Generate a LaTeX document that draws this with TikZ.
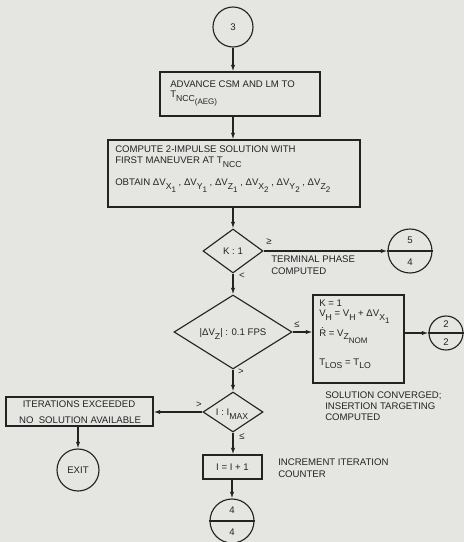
\documentclass[tikz,border=0pt]{standalone}
\usepackage{fontspec}
\setmainfont{Liberation Sans}
\usetikzlibrary{shapes.geometric,arrows.meta}
\definecolor{paper}{RGB}{229,229,226}
\definecolor{ink}{RGB}{35,35,35}
\newcommand\sbs[1]{\raisebox{-0.75ex}{\fontsize{6.5}{6.5}\selectfont #1}}
\newcommand\ssbs[1]{\raisebox{-0.7ex}{\fontsize{6}{6}\selectfont #1}}
\newcommand\Rdot{{\ooalign{R\cr\hidewidth\raisebox{0.8em}{.}\hidewidth\cr}}}
\begin{document}
\begin{tikzpicture}[x=0.75pt,y=-0.75pt,
  every node/.style={font=\fontsize{7.2}{8.4}\selectfont, text=ink},
  line/.style={draw=ink, line width=0.85pt},
  flow/.style={line, -{Latex[length=5pt,width=3.2pt]}},
  boxn/.style={draw=ink, line width=0.85pt, rectangle, inner sep=0pt},
  dia/.style={draw=ink, line width=0.85pt, diamond, inner sep=0pt},
  conn/.style={draw=ink, line width=0.85pt, circle, inner sep=0pt},
  tx/.style={inner sep=0pt, anchor=base west},
  ctx/.style={inner sep=0pt, anchor=base},
  sym/.style={inner sep=0pt}]

\fill[paper] (0,0) rectangle (464,542);
\useasboundingbox (0,0) rectangle (464,542);

% connector 3
\node[conn, minimum size=30pt] (c3) at (233,27) {3};

% box 1
\node[boxn, minimum width=120pt, minimum height=33pt] (b1) at (240,94) {};
\node[tx] (t1a) at (170,87.5) {ADVANCE CSM AND LM TO};
\node[tx] (t1b) at (170,97.5) {T\sbs{NCC\ssbs{(AEG)}}};

% box 2
\node[boxn, minimum width=189pt, minimum height=50.25pt] (b2) at (234,173.5) {};
\node[tx] (t2a) at (115,152.5) {COMPUTE 2-IMPULSE SOLUTION WITH};
\node[tx] (t2b) at (115,163.5) {FIRST MANEUVER AT T\sbs{NCC}};
\node[tx] (t2c) at (115,185.5) {OBTAIN ΔV\sbs{X\ssbs{1}} , ΔV\sbs{Y\ssbs{1}} , ΔV\sbs{Z\ssbs{1}} , ΔV\sbs{X\ssbs{2}} , ΔV\sbs{Y\ssbs{2}} , ΔV\sbs{Z\ssbs{2}}};

% decision K:1
\node[dia, minimum width=45pt, minimum height=33pt] (d1) at (233,251) {};
\node[ctx] (d1t) at (233,254.5) {K : 1};

% connector 5/4
\node[conn, minimum size=33pt] (c54) at (410,251) {};
\node[sym] (c54a) at (410,240) {5};
\node[sym] (c54b) at (410,262.5) {4};
\node[sym] (ge1) at (269,242) {≥};
\node[tx] (tp1) at (271,262.5) {TERMINAL PHASE};
\node[tx] (tp2) at (271,274) {COMPUTED};
\node[sym] (lt1) at (242,276) {<};

% decision |dVz|
\node[dia, minimum width=88.5pt, minimum height=55.5pt] (d2) at (233,332) {};
\node[ctx] (d2t) at (233,335.5) {|ΔV\sbs{Z}| : 0.1 FPS};
\node[sym] (le1) at (297,325) {≤};
\node[sym] (gt1) at (241,372) {>};

% box K=1
\node[boxn, minimum width=68.25pt, minimum height=66pt] (bk) at (358.5,339) {};
\node[tx] (k1) at (319,306.5) {K = 1};
\node[tx] (k2) at (319,316.5) {V\sbs{H} = V\sbs{H} + ΔV\sbs{X\ssbs{1}}};
\node[tx] (k3) at (319,336) {\Rdot{} = V\sbs{Z\ssbs{NOM}}};
\node[tx] (k4) at (319,365) {T\sbs{LOS} = T\sbs{LO}};

% connector 2/2
\node[conn, minimum size=25.5pt] (c22) at (446,333) {};
\node[sym] (c22a) at (446,324) {2};
\node[sym] (c22b) at (446,342) {2};

\node[tx] (sc1) at (325,398.5) {SOLUTION CONVERGED;};
\node[tx] (sc2) at (325,409.5) {INSERTION TARGETING};
\node[tx] (sc3) at (325,420.5) {COMPUTED};

% decision I:IMAX
\node[dia, minimum width=45pt, minimum height=30pt] (d3) at (233,412) {};
\node[ctx] (d3t) at (232,415.5) {I : I\sbs{MAX}};
\node[sym] (gt2) at (199,405) {>};
\node[sym] (le2) at (242,437) {≤};

% iterations exceeded
\node[boxn, minimum width=110.25pt, minimum height=21.75pt] (bi) at (79.5,411.5) {};
\node[ctx] (bi1) at (79,407.5) {ITERATIONS EXCEEDED};
\node[ctx] (bi2) at (80,423.5) {NO\ \ SOLUTION AVAILABLE};

\node[conn, minimum size=31.5pt] (ex) at (78,470) {EXIT};

% increment
\node[boxn, minimum width=44.25pt, minimum height=18pt] (binc) at (232.5,467) {};
\node[ctx] (bincT) at (232.5,470.5) {I = I + 1};
\node[tx] (ic1) at (278,465.5) {INCREMENT ITERATION};
\node[tx] (ic2) at (278,477.5) {COUNTER};

% connector 4/4
\node[conn, minimum size=33pt] (c44) at (232,521) {};
\node[sym] (c44a) at (232,510.5) {4};
\node[sym] (c44b) at (232,532) {4};

% split lines
\draw[line] (c54.west) -- (c54.east);
\draw[line] (c22.west) -- (c22.east);
\draw[line] (c44.west) -- (c44.east);

% flow
\draw[flow] (c3.south) -- (c3.south |- b1.north);
\draw[flow] (b1.south -| c3) -- (b2.north -| c3);
\draw[flow] (b2.south -| d1) -- (d1.north);
\draw[flow] (d1.east) -- (c54.west);
\draw[flow] (d1.south) -- (d2.north);
\draw[flow] (d2.east) -- (d2.east -| bk.west);
\draw[flow] (c22.west -| bk.east) -- (c22.west);
\draw[flow] (d2.south) -- (d3.north);
\draw[flow] (d3.west) -- (d3.west -| bi.east);
\draw[flow] (ex.north |- bi.south) -- (ex.north);
\draw[flow] (d3.south) -- (binc.north -| d3);
\draw[flow] (binc.south -| c44) -- (c44.north);
\end{tikzpicture}
\end{document}
